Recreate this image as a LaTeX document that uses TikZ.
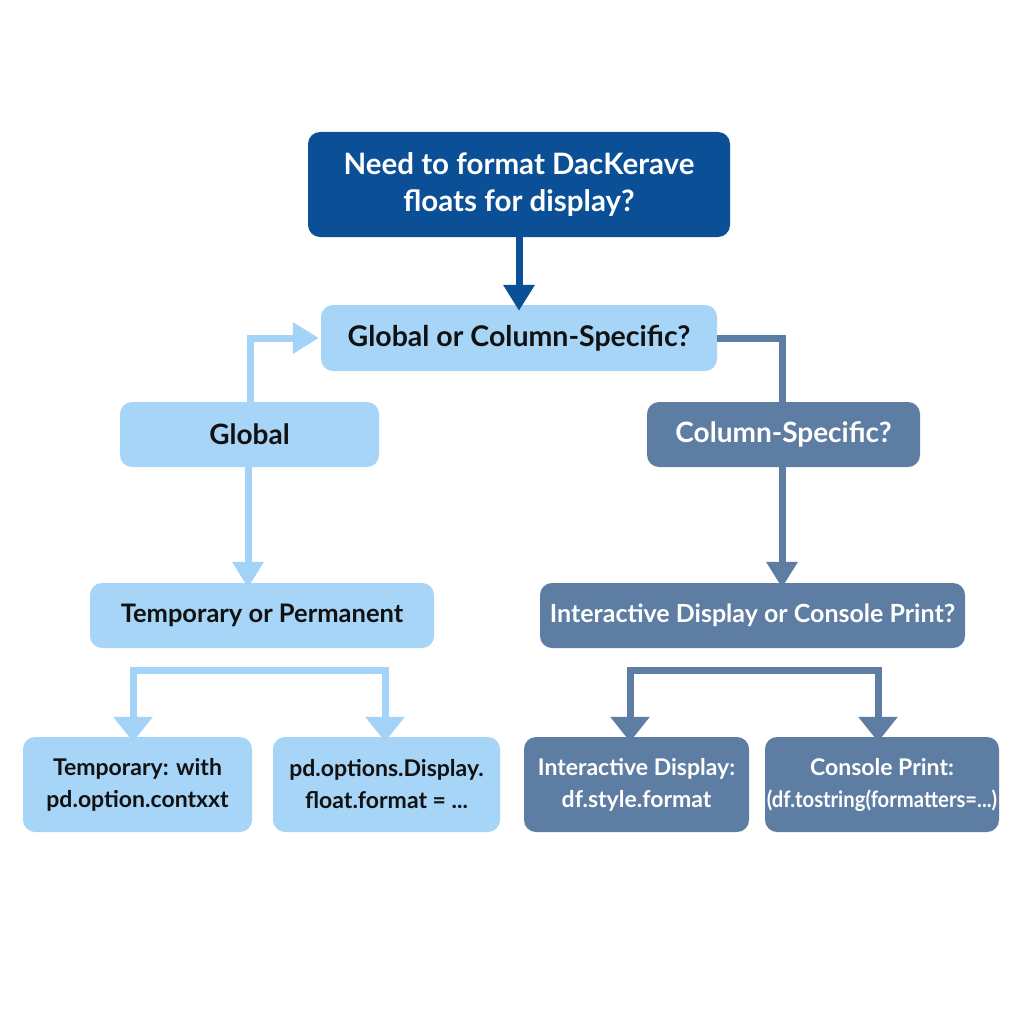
\documentclass[tikz,border=0pt]{standalone}
\usepackage{fontspec}
\usepackage{graphicx}
\setmainfont{Lato}
\usetikzlibrary{arrows.meta}
\definecolor{topblue}{HTML}{0B4F97}
\definecolor{lightblue}{HTML}{A6D5F7}
\definecolor{lightarrow}{HTML}{A3D3F6}
\definecolor{slate}{HTML}{5E7DA3}
\definecolor{txtdark}{HTML}{111111}
\tikzset{
  box/.style={rounded corners=12pt, inner sep=0pt, align=center, font=\bfseries},
  lightbox/.style={box, fill=lightblue, text=txtdark},
  slatebox/.style={box, fill=slate, text=white},
  topbox/.style={box, fill=topblue, text=white},
  lightconn/.style={draw=lightarrow, line width=7pt, -{Triangle[width=30pt,length=26pt]}},
  slateconn/.style={draw=slate, line width=7pt, -{Triangle[width=30pt,length=26pt]}},
  topconn/.style={draw=topblue, line width=7pt, -{Triangle[width=30pt,length=26pt]}},
}
\begin{document}
\begin{tikzpicture}[x=1pt,y=-1pt]
\useasboundingbox[fill=white] (0,0) rectangle (1024,1024);
% nodes
\node[topbox, minimum width=422pt, minimum height=105pt, font=\bfseries\fontsize{29.5}{37}\selectfont] (top) at (519,184.5) {Need to format DacKerave\\floats for display?};
\node[lightbox, minimum width=396pt, minimum height=66pt, font=\bfseries\fontsize{28.5}{32}\selectfont] (gc) at (519,338) {Global or Column-Specific?};
\node[lightbox, minimum width=259pt, minimum height=65pt, font=\bfseries\fontsize{28}{32}\selectfont] (global) at (249.5,434.5) {Global};
\node[slatebox, minimum width=273pt, minimum height=65pt, font=\bfseries\fontsize{28}{32}\selectfont] (col) at (783.5,434.5) {Column-Specific?};
\node[lightbox, minimum width=344pt, minimum height=65pt, font=\bfseries\fontsize{25.5}{30}\selectfont] (tp) at (262,615.5) {Temporary or Permanent};
\node[slatebox, minimum width=425pt, minimum height=65pt, font=\bfseries\fontsize{25}{30}\selectfont] (ic) at (752.5,615.5) {Interactive Display or Console Print?};
\node[lightbox, minimum width=229pt, minimum height=95pt, font=\bfseries\fontsize{23}{32}\selectfont] (temp) at (137.5,784.5) {Temporary: with\\pd.option.contxxt};
\node[lightbox, minimum width=227pt, minimum height=95pt, font=\bfseries\fontsize{23}{32}\selectfont] (perm) at (386.5,784.5) {pd.options.Display.\\float.format = ...};
\node[slatebox, minimum width=225pt, minimum height=95pt, font=\bfseries\fontsize{23}{32}\selectfont] (inter) at (636.5,784.5) {Interactive Display:\\df.style.format};
\node[slatebox, minimum width=234pt, minimum height=95pt, font=\bfseries\fontsize{23}{32}\selectfont] (cons) at (882,784.5) {Console Print:\\\makebox[0pt]{\scalebox{0.9}[1]{\fontsize{22.5}{32}\selectfont(df.tostring(formatters=...)}}};
% helper coordinates
\coordinate (lb) at (259,670);
\coordinate (rb) at (754,670);
% connectors
\draw[topconn] (top.south) -- ([yshift=-6pt]gc.north);
\draw[lightconn] ([xshift=0.5pt]global.north) |- ([xshift=-2pt]gc.west);
\draw[slateconn, -] (gc.east) -| ([xshift=-1.5pt]col.north);
\draw[lightconn] ([xshift=-1.5pt]global.south) -- ([xshift=-1.5pt,yshift=-5pt]tp.north -| global.south);
\draw[slateconn] ([xshift=-1.5pt]col.south) -- ([xshift=-1.5pt,yshift=-5pt]ic.north -| col.south);
\draw[lightconn, {Triangle[width=38pt,length=25pt]}-{Triangle[width=38pt,length=25pt]}] ([xshift=-4.5pt,yshift=-5pt]temp.north) |- (lb) -| ([xshift=-1.5pt,yshift=-5pt]perm.north);
\draw[slateconn, {Triangle[width=38pt,length=25pt]}-{Triangle[width=38pt,length=25pt]}] ([xshift=-6.5pt,yshift=-5pt]inter.north) |- (rb) -| ([xshift=-4pt,yshift=-5pt]cons.north);
\end{tikzpicture}
\end{document}
